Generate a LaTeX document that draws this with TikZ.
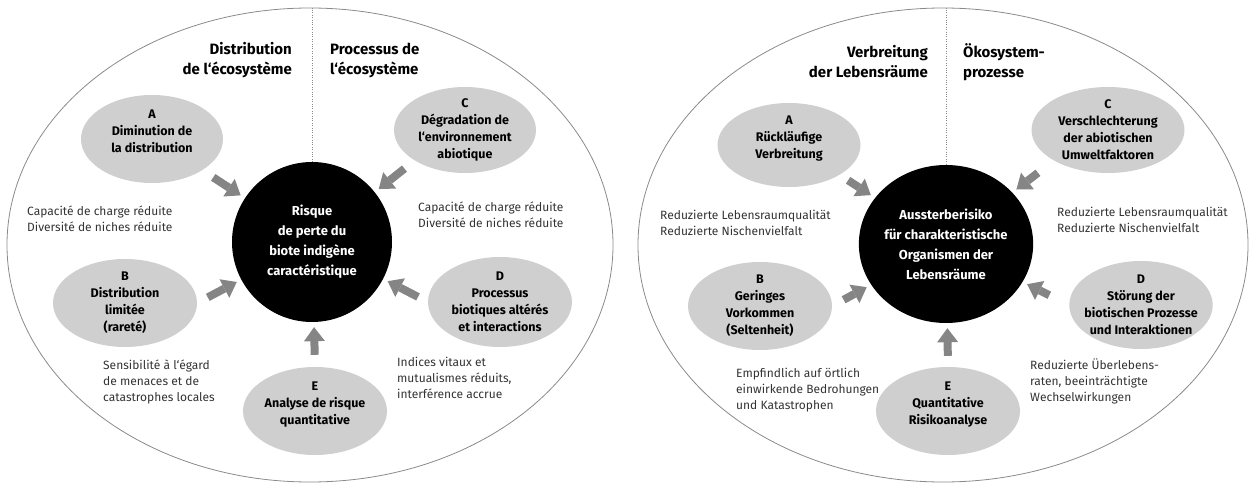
\documentclass[tikz,border=0pt]{standalone}
\usepackage{fontspec}
\setmainfont{Fira Sans}
\usetikzlibrary{shapes.geometric,arrows.meta}

\definecolor{bubblegrey}{HTML}{CFCFCF}
\definecolor{arrowgrey}{HTML}{858585}
\definecolor{ovalgrey}{HTML}{8A8A8A}
\definecolor{textgrey}{HTML}{333333}
\newcommand{\padline}{\\[-2pt]\mbox{}}

\begin{document}
\begin{tikzpicture}[x=1pt,y=-1pt,
	bigoval/.style={ellipse, draw=ovalgrey, line width=0.8pt, inner sep=0pt},
	core/.style={ellipse, fill=black, text=white, inner sep=0pt, minimum width=160pt, minimum height=160pt, align=center, font=\bfseries\fontsize{13}{20}\selectfont},
	bubble/.style={ellipse, fill=bubblegrey, inner xsep=-6pt, inner ysep=-2pt, minimum width=144pt, minimum height=88pt, align=center, font=\bfseries\fontsize{12.5}{17}\selectfont},
	coltitle/.style={inner sep=0pt, font=\bfseries\fontsize{15}{20}\selectfont},
	remark/.style={inner sep=0pt, anchor=west, align=left, text=textgrey, font=\fontsize{12}{16}\selectfont},
	bigarrow/.style={color=arrowgrey, line width=8pt, -{Triangle[width=21pt,length=14pt,line width=0pt]}, shorten >=5pt}]
\useasboundingbox (0,0) rectangle (1251,487);

% left diagram (French)
\node[bigoval, minimum width=606pt, minimum height=474pt] (ovalL) at (310,245) {};
\node[core] (riskL) at (312,242) {Risque\\de perte du\\biote indigène\\caractéristique};
\draw[ovalgrey, dotted] (riskL.north |- ovalL.north) -- (riskL.north);
\node[coltitle, anchor=east, align=right] (distL) at (292,60) {Distribution\\de l‘écosystème};
\node[coltitle, anchor=west, align=left] (procL) at (330,60) {Processus de\\l‘écosystème};
\node[bubble, minimum width=142pt] (aL) at (152,139) {A\\Diminution de\\la distribution\padline};
\node[bubble] (bL) at (125,303) {B\\Distribution\\limitée\\(rareté)};
\node[bubble, minimum width=142pt, minimum height=86pt] (cL) at (465,130) {C\\Dégradation de\\l‘environnement\\abiotique};
\node[bubble, minimum height=90pt] (dL) at (500,302) {D\\Processus\\biotiques altérés\\et interactions};
\node[bubble] (eL) at (315,411) {E\\Analyse de risque\\quantitative\padline};
\node[remark] (capL) at (27,219) {Capacité de charge réduite\\Diversité de niches réduite};
\node[remark] (capL2) at (418,215) {Capacité de charge réduite\\Diversité de niches réduite};
\node[remark] (sensL) at (103,382) {Sensibilité à l‘égard\\de menaces et de\\catastrophes locales};
\node[remark] (indL) at (397,378) {Indices vitaux et\\mutualismes réduits,\\interférence accrue};
\draw[bigarrow, shorten <=13pt] (aL.south east) -- (riskL);
\draw[bigarrow, shorten <=12pt] (bL.east) -- (riskL);
\draw[bigarrow, shorten <=13pt] (cL.south west) -- (riskL);
\draw[bigarrow, shorten <=11pt] (dL.west) -- (riskL);
\draw[bigarrow, shorten <=12pt] (eL.north) -- (riskL);

% right diagram (German)
\node[bigoval, minimum width=610pt, minimum height=474pt] (ovalR) at (943,245) {};
\node[core, minimum width=158pt, minimum height=158pt] (riskR) at (946,244) {Aussterberisiko\\für charakteristische\\Organismen der\\Lebensräume};
\draw[ovalgrey, dotted] (riskR.north |- ovalR.north) -- (riskR.north);
\node[coltitle, anchor=east, align=right] (distR) at (928,62) {Verbreitung\\der Lebensräume};
\node[coltitle, anchor=west, align=left] (procR) at (963,62) {Ökosystem-\\prozesse};
\node[bubble, minimum width=143pt, minimum height=84pt] (aR) at (789,145) {A\\Rückläufige\\Verbreitung\padline};
\node[bubble] (bR) at (760,306) {B\\Geringes\\Vorkommen\\(Seltenheit)};
\node[bubble, minimum width=153pt, minimum height=86pt] (cR) at (1108,130) {C\\Verschlechterung\\der abiotischen\\Umweltfaktoren};
\node[bubble, minimum width=140pt] (dR) at (1141,305) {D\\Störung der\\biotischen Prozesse\\und Interaktionen};
\node[bubble] (eR) at (948,411) {E\\Quantitative\\Risikoanalyse\padline};
\node[remark] (qualR) at (660,223) {Reduzierte Lebensraumqualität\\Reduzierte Nischenvielfalt};
\node[remark] (qualR2) at (1057,220) {Reduzierte Lebensraumqualität\\Reduzierte Nischenvielfalt};
\node[remark] (empfR) at (736,390) {Empfindlich auf örtlich\\einwirkende Bedrohungen\\und Katastrophen};
\node[remark] (ueberR) at (1030,381) {Reduzierte Überlebens-\\raten, beeinträchtigte\\Wechselwirkungen};
\draw[bigarrow, shorten <=10pt] (aR.south east) -- (riskR);
\draw[bigarrow, shorten <=13pt] (bR.east) -- (riskR);
\draw[bigarrow, shorten <=20pt] (cR.south west) -- (riskR);
\draw[bigarrow, shorten <=22pt] (dR.west) -- (riskR);
\draw[bigarrow, shorten <=11pt] (eR.north) -- (riskR);
\end{tikzpicture}
\end{document}
